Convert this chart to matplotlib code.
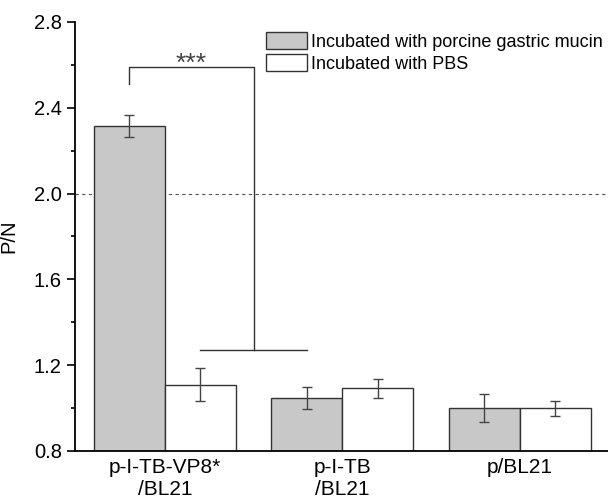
import matplotlib
matplotlib.use("Agg")
import matplotlib.pyplot as plt
import numpy as np

plt.rcParams['font.family'] = ['Liberation Sans', 'DejaVu Sans']

# Data
groups = ['p-I-TB-VP8*\n/BL21', 'p-I-TB\n/BL21', 'p/BL21']
mucin = [2.316, 1.047, 0.999]
mucin_err = [0.051, 0.053, 0.065]
pbs = [1.110, 1.092, 0.999]
pbs_err = [0.078, 0.044, 0.035]
labels = ['Incubated with porcine gastric mucin', 'Incubated with PBS']

fig = plt.figure(figsize=(6.08, 5.03), dpi=100)
ax = fig.add_axes([75 / 608, 52 / 503, 1 - 75 / 608, (451 - 22) / 503])

x = np.arange(len(groups))
w = 0.4
ekw = dict(ecolor='#444444', elinewidth=1, capthick=1)
ax.bar(x - w / 2, mucin, w, yerr=mucin_err, capsize=3.3,
       color='#c8c8c8', edgecolor='#333333', linewidth=1, error_kw=ekw,
       label=labels[0], zorder=2)
ax.bar(x + w / 2, pbs, w, yerr=pbs_err, capsize=3.3,
       color='white', edgecolor='#333333', linewidth=1, error_kw=ekw,
       label=labels[1], zorder=2)

# reference line at P/N = 2
ax.axhline(2.0, color='#555555', linestyle=(0, (3, 3)), linewidth=0.8, zorder=1)

# significance bracket
bc = '#333333'
ax.plot([-0.2, -0.2, 0.5, 0.5], [2.51, 2.59, 2.59, 1.27], color=bc, lw=1)
ax.plot([0.2, 0.8], [1.27, 1.27], color=bc, lw=1)
ax.text(0.15, 2.57, '***', ha='center', va='baseline', fontsize=19,
        color='#444444')

ax.set_ylim(0.8, 2.8)
ax.set_xlim(-0.507, 2.496)
ax.set_yticks([0.8, 1.2, 1.6, 2.0, 2.4, 2.8])
ax.set_yticks(np.arange(1.0, 2.8, 0.4), minor=True)
ax.set_xticks(x)
ax.set_xticklabels(groups, fontsize=15)
ax.tick_params(axis='y', labelsize=14.5, length=6, width=1.2, direction='out')
ax.tick_params(axis='y', which='minor', length=3, width=1.2)
ax.tick_params(axis='x', length=0, pad=5)
ax.set_ylabel('P/N', fontsize=14.5)
ax.yaxis.set_label_coords(-57 / 533, 0.5)

for s in ['top', 'right']:
    ax.spines[s].set_visible(False)
for s in ['left', 'bottom']:
    ax.spines[s].set_linewidth(1.3)

fig.legend(loc='upper left', bbox_to_anchor=(266 / 608, 1 - 32 / 503),
           frameon=False, fontsize=13, handlelength=2.25, handleheight=1.05,
           handletextpad=0.25, labelspacing=0.2, borderpad=0, borderaxespad=0)

fig.savefig('out.png', dpi=100)
